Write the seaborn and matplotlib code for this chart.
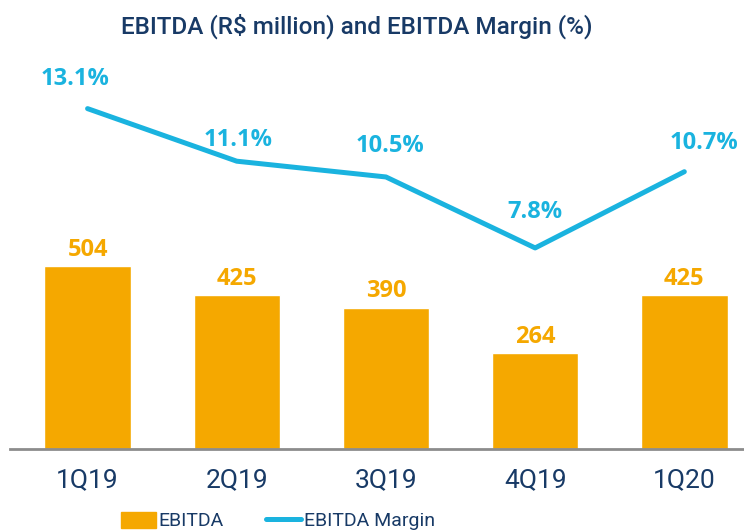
import matplotlib
matplotlib.use("Agg")
import matplotlib.pyplot as plt
import seaborn as sns
import pandas as pd
from matplotlib.patches import Patch
from matplotlib.lines import Line2D

# --- DATA ---
quarters = ["1Q19", "2Q19", "3Q19", "4Q19", "1Q20"]
ebitda = [504, 425, 390, 264, 425]
margin = [13.1, 11.1, 10.5, 7.8, 10.7]

ORANGE = "#F5A800"
BLUE = "#1AB3DF"
NAVY = "#183A66"
COND = ["Roboto", "DejaVu Sans"]
LABEL_FONT = ["Open Sans", "DejaVu Sans"]

sns.set_style("white")
plt.rcParams["font.family"] = ["Open Sans", "DejaVu Sans"]

df = pd.DataFrame({"quarter": quarters, "ebitda": ebitda, "margin": margin})

fig = plt.figure(figsize=(7.44, 5.32), dpi=100)
ax = fig.add_axes([10 / 744, 83 / 532, 734 / 744, 389 / 532])

sns.barplot(data=df, x="quarter", y="ebitda", color=ORANGE, width=0.58,
            saturation=1, ax=ax)
ax.set_ylim(0, 1073)
ax.set_xlim(-0.52, 4.40)

for i, v in enumerate(ebitda):
    ax.annotate(f"{v}", (i, v), xytext=(0, 3), textcoords="offset points",
                ha="center", va="bottom", color=ORANGE, fontsize=17,
                fontweight="bold", family=LABEL_FONT)

ax2 = ax.twinx()
sns.lineplot(data=df, x="quarter", y="margin", color=BLUE, linewidth=3.6,
             ax=ax2, sort=False)
ax2.set_ylim(0.15, 14.95)

# label offsets (points) for each margin label
offs = [(-9, 21), (1, 15), (3, 22), (0, 26), (14, 21)]
for i, (v, o) in enumerate(zip(margin, offs)):
    ax2.annotate(f"{v:.1f}%", (i, v), xytext=o, textcoords="offset points",
                 ha="center", va="center", color=BLUE, fontsize=17,
                 fontweight="bold", family=LABEL_FONT)

for a in (ax, ax2):
    a.set_xlabel("")
    a.set_ylabel("")
    a.set_yticks([])
    for s in ("top", "right", "left"):
        a.spines[s].set_visible(False)
ax2.spines["bottom"].set_visible(False)
ax.spines["bottom"].set_color("#8C8C8C")
ax.spines["bottom"].set_linewidth(2)

ax.tick_params(axis="x", length=0, pad=14)
for t in ax.get_xticklabels():
    t.set_fontfamily(COND)
    t.set_fontsize(19)
    t.set_color(NAVY)

fig.text(357 / 744, 1 - 26 / 532, "EBITDA (R$ million) and EBITDA Margin (%)",
         ha="center", va="center", color=NAVY, fontsize=17.5,
         fontweight="medium", family=COND)

handles = [Patch(color=ORANGE), Line2D([0], [0], color=BLUE, linewidth=3.6)]
fig.legend(handles, ["EBITDA", "EBITDA Margin"], loc="center",
           bbox_to_anchor=(278 / 744, 1 - 521 / 532), ncol=2, frameon=False,
           prop={"family": COND, "size": 14}, labelcolor=NAVY,
           handlelength=1.8, handleheight=0.9, handletextpad=0.15,
           columnspacing=2.2)

fig.savefig("out.png", dpi=100)
